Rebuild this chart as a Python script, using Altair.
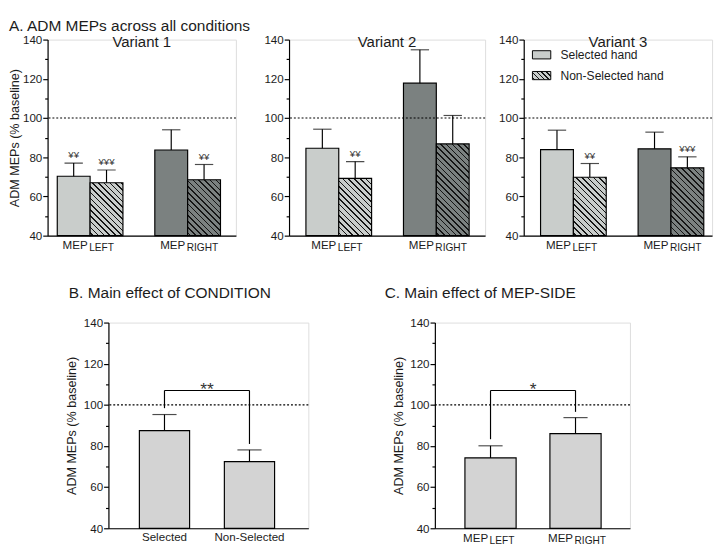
import altair as alt

FONT = "Liberation Sans"
INK = "#1c1c1c"
LIGHT = "#c9cdcb"
DARK = "#7b8180"
HATCH_LINE = "#151515"
BOT_FILL = "#d3d3d3"

Y_MIN, Y_MAX = 40, 140
baseline_ref = [100]

# ---------------- Panel A: three variants ----------------
title_a = "A. ADM MEPs across all conditions"
variants = ["Variant 1", "Variant 2", "Variant 3"]
sides = ["LEFT", "RIGHT"]
hands = ["Selected hand", "Non-Selected hand"]
# order: LEFT-Selected, LEFT-Non-Selected, RIGHT-Selected, RIGHT-Non-Selected
v1_mean = [70.3, 67.0, 83.7, 68.5]
v1_sem = [6.7, 6.5, 10.3, 7.8]
v1_sig = ["¥¥", "¥¥¥", "", "¥¥"]
v2_mean = [84.6, 69.2, 117.8, 86.8]
v2_sem = [9.7, 8.6, 17.0, 14.5]
v2_sig = ["", "¥¥", "", ""]
v3_mean = [83.9, 69.8, 84.3, 74.6]
v3_sem = [9.9, 7.0, 8.5, 5.6]
v3_sig = ["", "¥¥", "", "¥¥¥"]

# ---------------- Panel B: main effect of CONDITION ----------------
cond_cats = ["Selected", "Non-Selected"]
cond_mean = [87.5, 72.4]
cond_sem = [7.8, 5.7]
cond_bracket_end = [98.4, 81.0]
cond_bracket_top = 107
cond_star = "**"

# ---------------- Panel C: main effect of MEP-SIDE ----------------
side_cats = ["LEFT", "RIGHT"]
side_mean = [74.2, 86.0]
side_sem = [5.9, 7.8]
side_bracket_end = [83.3, 96.6]
side_bracket_top = 107
side_star = "*"

TOP_H = 203
BOT_H = 213
STEP_TOP, GROUP_W = 101, 68
LEG_BOX_W, LEG_BOX_H = 19, 8.5
HEAD_GAP_PX = 9.2  # heading baseline above the top panels' plot area

yscale = alt.Scale(domain=[Y_MIN, Y_MAX], nice=False, zero=False)
xaxis = alt.Axis(labels=False, ticks=False, title=None, domainColor="black",
                 domainWidth=1.2, grid=False)


def hatch(w, h, bg, line, period=6.0, lw=1.6):
    L = w + h
    d = w * w + h * h
    stops = [{"offset": 0, "color": bg}]
    c = period / 2
    while c < L:
        a = round(max(0.0, (c - lw / 2) / L), 5)
        b = round(min(1.0, (c + lw / 2) / L), 5)
        stops += [{"offset": a, "color": bg}, {"offset": a, "color": line},
                  {"offset": b, "color": line}, {"offset": b, "color": bg}]
        c += period
    stops.append({"offset": 1, "color": bg})
    return {"gradient": "linear", "x1": 0, "y1": 1,
            "x2": round(w * L / d, 5), "y2": round(1 - h * L / d, 5), "stops": stops}


def band_scale(domain, W, step, bw, align):
    pi = 1 - bw / step
    po = (W / step - 2 + pi) / 2
    return alt.Scale(domain=domain, paddingInner=pi, paddingOuter=po, align=align)


def y_axis(title, tpad):
    kw = dict(values=list(range(40, 141, 10)),
              labelExpr="datum.value % 20 === 0 ? datum.label : ''",
              tickSize={"condition": {"test": "datum.value % 20 === 0", "value": 5}, "value": 3},
              tickColor="black", tickWidth=1.2, domainColor="black", domainWidth=1.2,
              labelFont=FONT, labelFontSize=12, labelColor=INK, labelPadding=1,
              grid=False, titleFont=FONT, titleFontSize=13, titleFontWeight="normal",
              titleColor=INK, titlePadding=tpad)
    return alt.Axis(title=title, **kw)


def top_panel(name, means, sems, sigs, W, align, ytitle, legend=False, heading=None):
    bar_w = GROUP_W / 2
    xs = band_scale(sides, W, STEP_TOP, GROUP_W, align)
    yax = y_axis(ytitle, 1)
    X = alt.X("side:N", scale=xs, axis=xaxis)
    XO = alt.XOffset("hand:N", scale=alt.Scale(domain=hands, paddingInner=0, paddingOuter=0))

    def Y(f):
        return alt.Y(f, type="quantitative", scale=yscale, axis=yax)

    recs = []
    i = 0
    for s_i, side in enumerate(sides):
        base = LIGHT if s_i == 0 else DARK
        for h_i, hand in enumerate(hands):
            m = means[i]
            if h_i == 0:
                fill = base
            else:
                fill = hatch(bar_w, (m - Y_MIN) / (Y_MAX - Y_MIN) * TOP_H, base, HATCH_LINE)
            recs.append({"side": side, "hand": hand, "mean": m, "top": m + sems[i],
                         "sig": sigs[i], "fill": fill})
            i += 1
    data = alt.InlineData(values=recs)
    bars = alt.Chart(data).mark_bar(stroke="black", strokeWidth=1.2).encode(
        x=X, xOffset=XO, y=Y("mean"), y2=alt.datum(Y_MIN), fill=alt.Fill("fill:N", scale=None))
    err = alt.Chart(data).mark_rule(color="black", strokeWidth=1.2).encode(
        x=X, xOffset=XO, y=Y("mean"), y2="top:Q")
    caps = alt.Chart(data).mark_tick(color="black", thickness=1.2, size=19).encode(
        x=X, xOffset=XO, y=Y("top"))
    sig = alt.Chart(data).mark_text(dy=-5, baseline="alphabetic", fontSize=10, font=FONT,
                                    color="#333333").encode(
        x=X, xOffset=XO, y=Y("top"), text="sig:N")
    ref = alt.Chart(alt.InlineData(values=[{"ref": v} for v in baseline_ref])).mark_rule(
        color="black", strokeWidth=1.1, strokeDash=[2, 2]).encode(y=Y("ref"))
    lab = alt.InlineData(values=[{"side": s, "main": "MEP", "sub": s} for s in sides])
    lab_main = alt.Chart(lab).mark_text(align="right", baseline="alphabetic", dx=-2.5, dy=13.7,
                                        fontSize=12, font=FONT, color=INK).encode(
        x=X, y=alt.Y(datum=Y_MIN, scale=yscale, axis=yax), text="main:N")
    lab_sub = alt.Chart(lab).mark_text(align="left", baseline="alphabetic", dx=-1, dy=16.3,
                                       fontSize=10.5, font=FONT, color=INK).encode(
        x=X, y=alt.Y(datum=Y_MIN, scale=yscale, axis=yax), text="sub:N")
    head = alt.Chart(alt.InlineData(values=[{"name": name}])).mark_text(
        baseline="alphabetic", dy=8, fontSize=15.5, font=FONT, color=INK).encode(
        x=alt.value(W / 2), y=alt.Y(datum=Y_MAX, scale=yscale, axis=yax), text="name:N")
    layers = [bars, err, caps, sig, ref, lab_main, lab_sub, head]
    if heading:
        head_y = Y_MAX + HEAD_GAP_PX * (Y_MAX - Y_MIN) / TOP_H
        layers.append(alt.Chart(alt.InlineData(values=[{"t": heading}])).mark_text(
            align="left", baseline="alphabetic", fontSize=16, font=FONT,
            color=INK).encode(x=alt.value(-40),
                              y=alt.Y(datum=head_y, scale=yscale, axis=yax), text="t:N"))
    if legend:
        fills = [LIGHT, hatch(LEG_BOX_W, LEG_BOX_H, LIGHT, HATCH_LINE, period=5.0, lw=1.4)]
        for k, (h, f) in enumerate(zip(hands, fills)):
            top_px = 11.5 + k * 21.5
            one = alt.InlineData(values=[{"label": h}])
            layers.append(alt.Chart(one).mark_rect(
                fill=f, stroke="black", strokeWidth=1).encode(
                x=alt.value(9), x2=alt.value(9 + LEG_BOX_W),
                y=alt.value(top_px), y2=alt.value(top_px + LEG_BOX_H)))
            layers.append(alt.Chart(one).mark_text(
                align="left", baseline="alphabetic", fontSize=12.5, font=FONT,
                color=INK).encode(x=alt.value(38), y=alt.value(top_px + 9), text="label:N"))
    return alt.layer(*layers).properties(width=W, height=TOP_H)


def bottom_panel(title, cats, subscript, means, sems, bend, btop, star, W, step, bw, align,
                 tpad, title_dx):
    xs = band_scale(cats, W, step, bw, align)
    yax = y_axis("ADM MEPs (% baseline)", tpad)
    X = alt.X("cat:N", scale=xs, axis=xaxis)

    def Y(f):
        return alt.Y(f, type="quantitative", scale=yscale, axis=yax)

    recs = [{"cat": c, "mean": m, "top": m + s, "btop": btop, "bend": e}
            for c, m, s, e in zip(cats, means, sems, bend)]
    data = alt.InlineData(values=recs)
    bars = alt.Chart(data).mark_bar(stroke="black", strokeWidth=1.2, fill=BOT_FILL).encode(
        x=X, y=Y("mean"), y2=alt.datum(Y_MIN))
    err = alt.Chart(data).mark_rule(color="black", strokeWidth=1.2).encode(
        x=X, y=Y("mean"), y2="top:Q")
    caps = alt.Chart(data).mark_tick(color="black", thickness=1.2, size=25).encode(
        x=X, y=Y("top"))
    legs = alt.Chart(data).mark_rule(color="black", strokeWidth=1.2).encode(
        x=X, y=Y("btop"), y2="bend:Q")
    br = alt.InlineData(values=[{"from": cats[0], "to": cats[1], "btop": btop, "star": star}])
    Xf = alt.X("from:N", scale=xs, axis=xaxis)
    bar_h = alt.Chart(br).mark_rule(color="black", strokeWidth=1.2).encode(
        x=Xf, x2="to:N", y=Y("btop"))
    st = alt.Chart(br).mark_text(fontSize=18, font=FONT, baseline="alphabetic", dx=step / 2,
                                 dy=5, color="#333333").encode(x=Xf, y=Y("btop"), text="star:N")
    ref = alt.Chart(alt.InlineData(values=[{"ref": v} for v in baseline_ref])).mark_rule(
        color="black", strokeWidth=1.1, strokeDash=[2, 2]).encode(y=Y("ref"))
    layers = [bars, err, caps, legs, bar_h, st, ref]
    if subscript:
        lab = alt.InlineData(values=[{"cat": c, "main": "MEP", "sub": c} for c in cats])
        layers.append(alt.Chart(lab).mark_text(
            align="right", baseline="alphabetic", dx=-2.5, dy=13.7, fontSize=12, font=FONT,
            color=INK).encode(x=X, y=alt.Y(datum=Y_MIN, scale=yscale, axis=yax), text="main:N"))
        layers.append(alt.Chart(lab).mark_text(
            align="left", baseline="alphabetic", dx=-1, dy=16.3, fontSize=10.5, font=FONT,
            color=INK).encode(x=X, y=alt.Y(datum=Y_MIN, scale=yscale, axis=yax), text="sub:N"))
    else:
        lab = alt.InlineData(values=[{"cat": c} for c in cats])
        layers.append(alt.Chart(lab).mark_text(
            align="center", baseline="alphabetic", dy=13.3, fontSize=12, font=FONT,
            color=INK).encode(x=X, y=alt.Y(datum=Y_MIN, scale=yscale, axis=yax), text="cat:N"))
    return alt.layer(*layers).properties(
        width=W, height=BOT_H,
        title=alt.TitleParams(title, fontSize=16, font=FONT, fontWeight="normal", color=INK,
                              anchor="start", frame="bounds", dx=title_dx, offset=16))


p1 = top_panel(variants[0], v1_mean, v1_sem, v1_sig, 195, 0.385, "ADM MEPs (% baseline)",
               heading=title_a)
p2 = top_panel(variants[1], v2_mean, v2_sem, v2_sig, 203, 0.514, None)
p3 = top_panel(variants[2], v3_mean, v3_sem, v3_sig, 195, 0.67, None, legend=True)

pB = bottom_panel("B. Main effect of CONDITION", cond_cats, False, cond_mean, cond_sem,
                  cond_bracket_end, cond_bracket_top, cond_star, 207, 88, 52, 0.478, 5, 3)
pC = bottom_panel("C. Main effect of MEP-SIDE", side_cats, True, side_mean, side_sem,
                  side_bracket_end, side_bracket_top, side_star, 202, 88, 53, 0.51, 4, -9)

spacer = alt.Chart(alt.InlineData(values=[{"a": 0}])).mark_point(opacity=0).properties(
    width=18, height=1)

top = alt.hconcat(p1, p2, p3, spacing=11)
bottom = alt.hconcat(spacer, alt.hconcat(pB, pC, spacing=76), spacing=0)

chart = alt.vconcat(top, bottom, spacing=31).properties(
    padding=0).configure_view(stroke=None).configure(font=FONT)

chart.save("out.html", embed_options={"renderer": "svg", "actions": False})
